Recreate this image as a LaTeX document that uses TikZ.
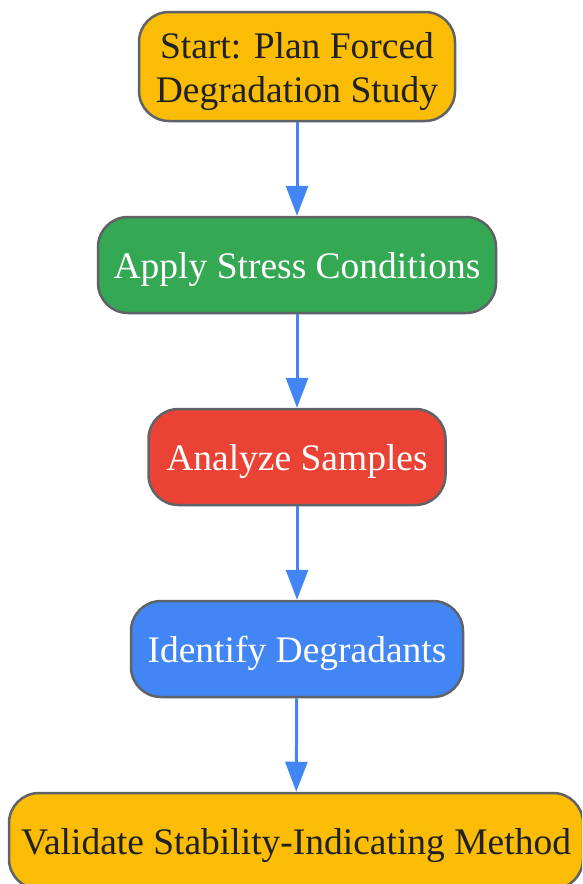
\documentclass[tikz,border=0pt]{standalone}
\usepackage{fontspec}
\setmainfont{Liberation Serif}
\usetikzlibrary{arrows.meta}
\definecolor{gyellow}{HTML}{FBBC05}
\definecolor{ggreen}{HTML}{34A853}
\definecolor{gred}{HTML}{EA4335}
\definecolor{gblue}{HTML}{4285F4}
\definecolor{gborder}{HTML}{5F6368}
\definecolor{gtext}{HTML}{202124}
\tikzset{
  stepbox/.style={draw=gborder, line width=2.5pt, rounded corners=30pt,
    minimum height=96pt, inner sep=0pt, align=center,
    text height=30pt, text depth=4pt,
    font=\fontsize{37.5}{44}\selectfont},
  darktext/.style={text=gtext},
  lighttext/.style={text=white},
  flow/.style={draw=gblue, line width=3pt, -{Triangle[length=30pt,width=22pt]}}
}
\begin{document}
\begin{tikzpicture}[x=1pt,y=-1pt]
\useasboundingbox (0,0) rectangle (582,884);
\clip (0,0) rectangle (582,884);
\node[stepbox, darktext, fill=gyellow, minimum width=316pt, minimum height=109pt, text height=73pt, text depth=2pt] (n1) at (297,66.5) {Start: Plan Forced\\Degradation Study};
\node[stepbox, lighttext, fill=ggreen, minimum width=398pt] (n2) at (297,265) {Apply Stress Conditions};
\node[stepbox, lighttext, fill=gred, minimum width=297pt] (n3) at (297,457) {Analyze Samples};
\node[stepbox, lighttext, fill=gblue, minimum width=332pt] (n4) at (297,649) {Identify Degradants};
\node[stepbox, darktext, fill=gyellow, minimum width=574pt] (n5) at (296,841) {Validate Stability-Indicating Method};
\draw[flow] (n1) -- (n2);
\draw[flow] (n2) -- (n3);
\draw[flow] (n3) -- (n4);
\draw[flow] (n4) -- (n5);
\end{tikzpicture}
\end{document}
